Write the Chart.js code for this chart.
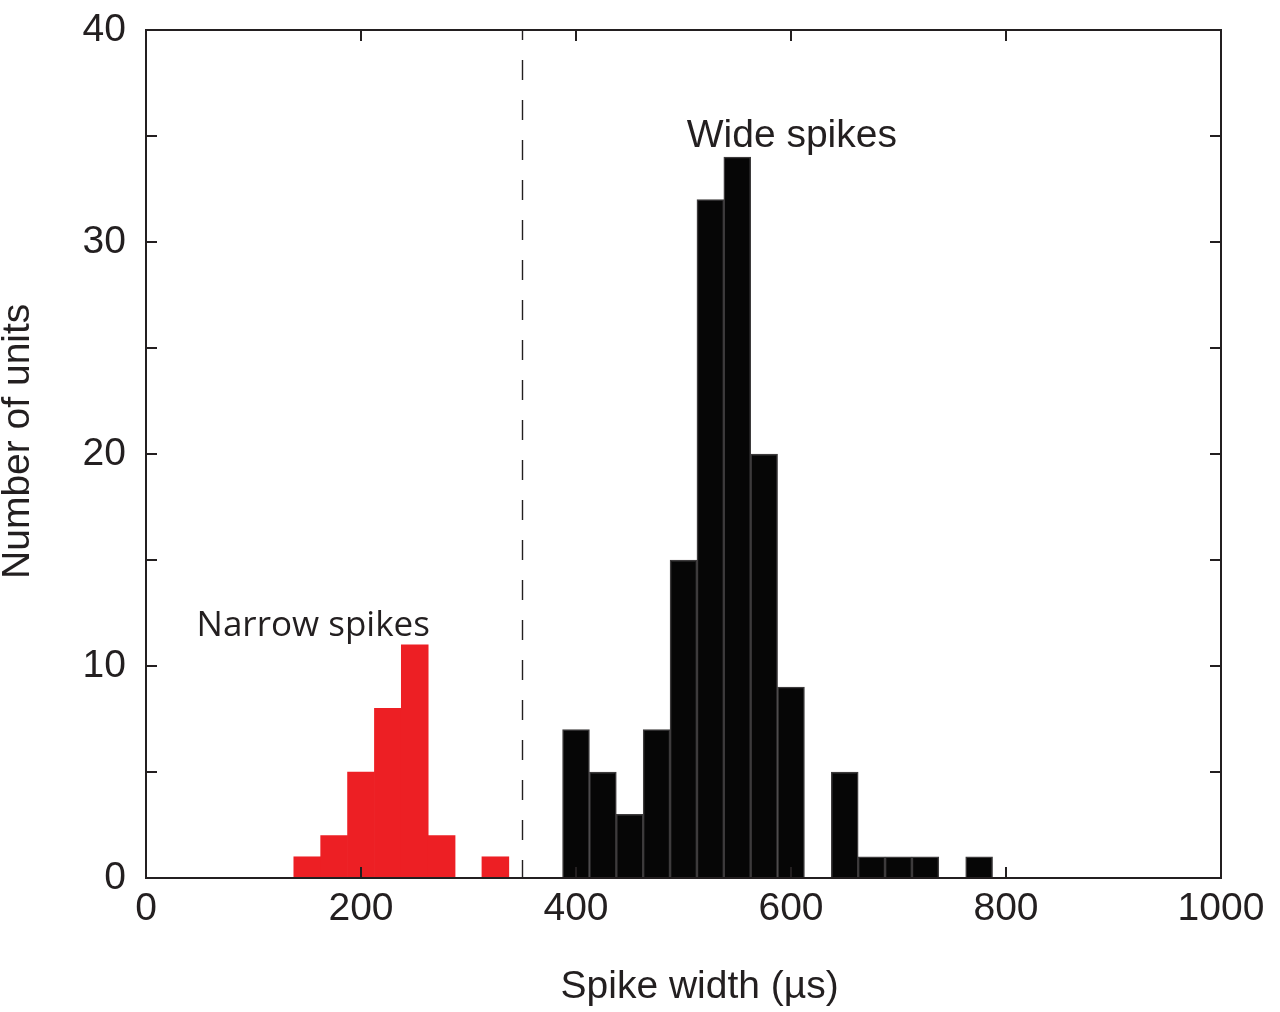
<!DOCTYPE html>
<html>
<head>
<meta charset="utf-8">
<script src="https://cdn.jsdelivr.net/npm/chart.js@4.4.0/dist/chart.umd.min.js"></script>
<style>
  html, body { margin: 0; padding: 0; background: #fff; }
  #wrap { width: 1280px; height: 1012px; }
</style>
</head>
<body>
<div id="wrap"><canvas id="chartspikes"></canvas></div>
<script>
// bin centres (µs) and counts (bin width 25 µs)
var narrowBins = [150, 175, 200, 225, 250, 275, 300, 325];
var narrowCounts = [1, 2, 5, 8, 11, 2, 0, 1];
var wideBins = [400, 425, 450, 475, 500, 525, 550, 575, 600, 625, 650, 675, 700, 725, 750, 775];
var wideCounts = [7, 5, 3, 7, 15, 32, 34, 20, 9, 0, 5, 1, 1, 1, 0, 1];
var xTicks = [0, 200, 400, 600, 800, 1000];
var yTicks = [0, 5, 10, 15, 20, 25, 30, 35, 40];
var threshold = 350;

var INK = "#231f20";
var SANS = "'Liberation Sans', Arial, sans-serif";

function toPoints(bins, counts){
    var pts = [];
    for (var i = 0; i < bins.length; i++) {
        pts.push({x: bins[i], y: counts[i]});
    }
    return pts;
}

// frame, inward ticks, dashed threshold line, labels and axis titles
var decorations = {
    id: "decorations",
    afterDatasetsDraw: function(chart){
        var ctx = chart.ctx;
        var a = chart.chartArea;
        var xs = chart.scales.x, ys = chart.scales.y;
        ctx.save();

        // dashed threshold
        var dx = Math.round(xs.getPixelForValue(threshold)) + 0.5;
        ctx.strokeStyle = INK;
        ctx.lineWidth = 1.4;
        ctx.setLineDash([20, 20]);
        ctx.lineDashOffset = 10;
        ctx.beginPath();
        ctx.moveTo(dx, ys.getPixelForValue(40));
        ctx.lineTo(dx, ys.getPixelForValue(0));
        ctx.stroke();
        ctx.setLineDash([]);

        // ticks pointing inwards on all four sides
        ctx.lineWidth = 2;
        var len = 11;
        ctx.beginPath();
        for (var i = 0; i < xTicks.length; i++) {
            var px = xs.getPixelForValue(xTicks[i]);
            ctx.moveTo(px, a.bottom); ctx.lineTo(px, a.bottom - len);
            ctx.moveTo(px, a.top); ctx.lineTo(px, a.top + len);
        }
        for (var j = 0; j < yTicks.length; j++) {
            var py = ys.getPixelForValue(yTicks[j]);
            ctx.moveTo(a.left, py); ctx.lineTo(a.left + len, py);
            ctx.moveTo(a.right, py); ctx.lineTo(a.right - len, py);
        }
        ctx.stroke();

        // frame
        ctx.lineWidth = 2;
        ctx.strokeRect(a.left, a.top, a.right - a.left, a.bottom - a.top);

        // labels
        ctx.fillStyle = INK;
        ctx.textBaseline = "middle";
        ctx.textAlign = "left";
        ctx.font = "39px " + SANS;
        ctx.fillText("Wide spikes", xs.getPixelForValue(503), ys.getPixelForValue(35.0));
        ctx.font = "35px 'Open Sans', 'Noto Sans', sans-serif";
        ctx.fillText("Narrow spikes", xs.getPixelForValue(47), ys.getPixelForValue(11.9));

        // axis titles
        ctx.textAlign = "center";
        ctx.font = "39px " + SANS;
        ctx.fillText("Spike width (µs)", xs.getPixelForValue(515), a.bottom + 109);
        ctx.translate(18, ys.getPixelForValue(20.6));
        ctx.rotate(-Math.PI / 2);
        ctx.fillText("Number of units", 0, 0);

        ctx.restore();
    }
};

var ctx_chart = document.getElementById("chartspikes").getContext("2d");
var chart = new Chart(ctx_chart, {
    type: "bar",
    data: {
        datasets: [{
            label: "Narrow spikes",
            data: toPoints(narrowBins, narrowCounts),
            backgroundColor: "#ed1f24",
            borderWidth: 0,
            grouped: false
        }, {
            label: "Wide spikes",
            data: toPoints(wideBins, wideCounts),
            backgroundColor: "#060606",
            borderColor: "#3d3b3c",
            borderWidth: 1.5,
            grouped: false
        }]
    },
    plugins: [decorations],
    options: {
        responsive: true,
        maintainAspectRatio: false,
        animation: false,
        barPercentage: 1,
        categoryPercentage: 1,
        layout: {
            padding: { left: 0, right: 59, top: 30, bottom: 0 }
        },
        plugins: {
            legend: { display: false },
            tooltip: { enabled: false }
        },
        scales: {
            x: {
                type: "linear",
                min: 0,
                max: 1000,
                offset: false,
                afterFit: function(scale){
                    scale.height = 134;
                    scale.paddingLeft = 0;
                    scale.paddingRight = 0;
                },
                afterBuildTicks: function(scale){
                    scale.ticks = xTicks.map(function(v){ return {value: v}; });
                },
                grid: { display: false, drawTicks: false, offset: false },
                border: { display: false },
                ticks: {
                    color: INK,
                    padding: 8,
                    font: { family: SANS, size: 39 },
                    maxRotation: 0,
                    callback: function(v){ return String(v); }
                }
            },
            y: {
                min: 0,
                max: 40,
                afterFit: function(scale){
                    scale.width = 146;
                    scale.paddingTop = 0;
                    scale.paddingBottom = 0;
                },
                afterBuildTicks: function(scale){
                    scale.ticks = yTicks.map(function(v){ return {value: v}; });
                },
                grid: { display: false, drawTicks: false },
                border: { display: false },
                ticks: {
                    color: INK,
                    padding: 20,
                    font: { family: SANS, size: 39 },
                    callback: function(v){ return v % 10 == 0 ? String(v) : ""; }
                }
            }
        }
    }
});
</script>
</body>
</html>
